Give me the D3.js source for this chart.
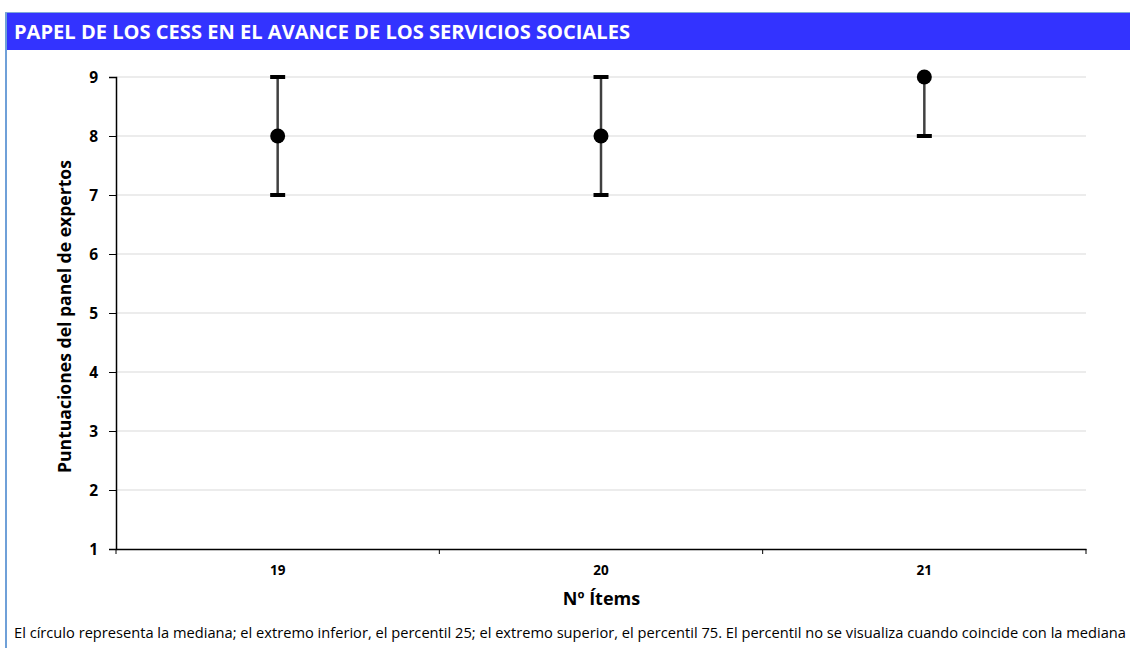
<!DOCTYPE html>
<html><head><meta charset="utf-8">
<script src="https://cdn.jsdelivr.net/npm/d3@7"></script>
<style>body{margin:0;background:#fff;}svg{display:block;font-family:"Open Sans","Noto Sans",sans-serif;}</style>
</head><body><svg id="c" width="1130" height="648"></svg>
<script>
const categories = ["19","20","21"];
const medians = [8, 8, 9];
const p25 = [7, 7, 8];
const p75 = [9, 9, 9];
const yTicks = [1,2,3,4,5,6,7,8,9];

const svg = d3.select("#c");
const W = 1130, H = 648;
const m = {l:116, r:1086, t:77, b:549};
const FF = "'Open Sans',sans-serif";

// frame
svg.append("line").attr("x1",6).attr("x2",6).attr("y1",12).attr("y2",H).attr("stroke","#6fa0d8").attr("stroke-width",2);
svg.append("line").attr("x1",5).attr("x2",W).attr("y1",12.5).attr("y2",12.5).attr("stroke","#7fa8d8").attr("stroke-width",1);
svg.append("rect").attr("x",7).attr("y",13).attr("width",W-7).attr("height",37).attr("fill","#3333ff");
svg.append("text").attr("x",14).attr("y",39).attr("fill","#fff").attr("font-weight","bold")
  .attr("font-size",19).style("font-family",FF).attr("textLength",616).attr("lengthAdjust","spacingAndGlyphs")
  .text("PAPEL DE LOS CESS EN EL AVANCE DE LOS SERVICIOS SOCIALES");

const x = d3.scaleBand().domain(categories).range([m.l, m.r]);
const y = d3.scaleLinear().domain([1,9]).range([m.b, m.t]);

// gridlines
svg.append("g").selectAll("line").data(yTicks.slice(1)).join("line")
  .attr("x1",m.l).attr("x2",m.r).attr("y1",d=>y(d)).attr("y2",d=>y(d))
  .attr("stroke","#d9d9d9").attr("stroke-width",1);

// y axis
const ya = svg.append("g").attr("transform",`translate(${m.l},0)`)
  .call(d3.axisLeft(y).tickValues(yTicks).tickSize(7).tickPadding(11).tickFormat(d3.format("d")));
ya.select(".domain").attr("stroke","#000").attr("stroke-width",1.5);
ya.selectAll(".tick line").attr("stroke","#000");
ya.selectAll("text").attr("font-size",15.5).attr("font-weight","bold").attr("fill","#000").attr("dy","0.36em")
  .style("font-family",FF);

// x axis
const xa = svg.append("g").attr("transform",`translate(0,${m.b})`)
  .call(d3.axisBottom(x).tickSize(0).tickPadding(16));
xa.select(".domain").attr("stroke","#000").attr("stroke-width",1.5);
xa.selectAll("text").attr("font-size",13.5).attr("font-weight","bold").attr("fill","#000")
  .style("font-family",FF);
const bounds = categories.map(c=>x(c)).concat([x(categories[categories.length-1])+x.bandwidth()]);
svg.append("g").selectAll("line").data(bounds).join("line")
  .attr("x1",d=>d).attr("x2",d=>d).attr("y1",m.b).attr("y2",m.b+5).attr("stroke","#000").attr("stroke-width",1);

// axis titles
svg.append("text").attr("transform",`translate(71,${(160+473)/2}) rotate(-90)`).attr("text-anchor","middle")
  .attr("font-size",17.5).attr("font-weight","bold").style("font-family",FF)
  .attr("textLength",313).attr("lengthAdjust","spacingAndGlyphs")
  .text("Puntuaciones del panel de expertos");
svg.append("text").attr("x",(563+640)/2).attr("y",605).attr("text-anchor","middle")
  .attr("font-size",18).attr("font-weight","bold").style("font-family",FF)
  .text("Nº Ítems");

// error bars
const cx = i => x(categories[i]) + x.bandwidth()/2;
const g = svg.append("g");
categories.forEach((c,i)=>{
  g.append("line").attr("x1",cx(i)).attr("x2",cx(i)).attr("y1",y(p25[i])).attr("y2",y(p75[i]))
    .attr("stroke","#404040").attr("stroke-width",2.5);
  if (p25[i] !== medians[i]) g.append("rect").attr("x",cx(i)-7.5).attr("y",y(p25[i])-2).attr("width",15).attr("height",4).attr("fill","#000");
  if (p75[i] !== medians[i]) g.append("rect").attr("x",cx(i)-7.5).attr("y",y(p75[i])-2).attr("width",15).attr("height",4).attr("fill","#000");
  g.append("circle").attr("cx",cx(i)).attr("cy",y(medians[i])).attr("r",7.5).attr("fill","#000");
});

// footnote
svg.append("text").attr("x",14).attr("y",638).attr("font-size",14).attr("fill","#000")
  .style("font-family",FF).attr("textLength",1112).attr("lengthAdjust","spacingAndGlyphs")
  .text("El círculo representa la mediana; el extremo inferior, el percentil 25; el extremo superior, el percentil 75. El percentil no se visualiza cuando coincide con la mediana");
</script></body></html>
